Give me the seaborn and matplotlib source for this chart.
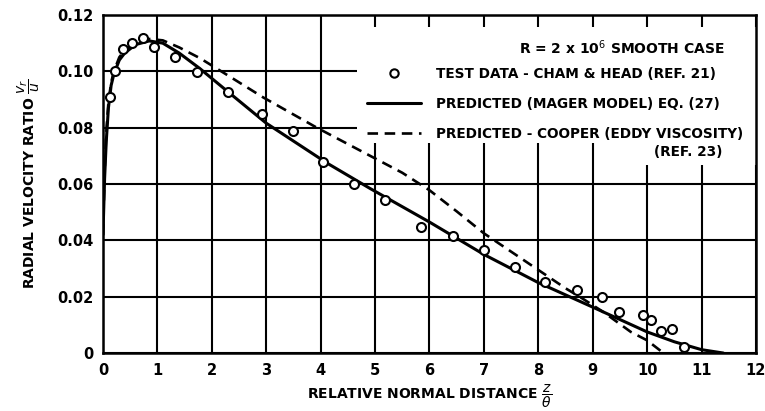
import matplotlib
matplotlib.use("Agg")
import matplotlib.pyplot as plt
from matplotlib.lines import Line2D
from matplotlib.patches import Rectangle
import seaborn as sns
import pandas as pd

# ---- data ----
test_x = [0.13, 0.23, 0.37, 0.53, 0.73, 0.94, 1.33, 1.73, 2.29, 2.93, 3.49, 4.04,
          4.61, 5.18, 5.84, 6.44, 7.0, 7.57, 8.13, 8.71, 9.17, 9.48, 9.93, 10.08,
          10.25, 10.45, 10.67]
test_y = [0.091, 0.100, 0.108, 0.110, 0.112, 0.1085, 0.105, 0.0997, 0.0926, 0.0849,
          0.0788, 0.0678, 0.0600, 0.0543, 0.0447, 0.0417, 0.0365, 0.0307, 0.0252,
          0.0224, 0.0200, 0.0146, 0.0135, 0.0117, 0.0077, 0.0087, 0.0022]

mager_x = [0, 0.03, 0.06, 0.1, 0.15, 0.2, 0.3, 0.4, 0.6, 0.85, 1.1, 1.4, 1.78, 2.3,
           3.0, 4.12, 4.91, 6.0, 7.0, 8.0, 9.0, 10.0, 10.5, 11.0, 11.4]
mager_y = [0.042, 0.062, 0.075, 0.087, 0.095, 0.099, 0.104, 0.1065, 0.1095, 0.1108,
           0.110, 0.1065, 0.101, 0.0927, 0.0816, 0.0674, 0.0584, 0.0465, 0.0350,
           0.0250, 0.0163, 0.0075, 0.0040, 0.0012, 0.0]

cooper_x = [0, 0.03, 0.06, 0.1, 0.15, 0.2, 0.3, 0.4, 0.6, 0.85, 1.1, 1.4, 1.78, 2.3,
            2.94, 3.93, 4.96, 5.5, 6.0, 6.5, 7.0, 7.5, 8.0, 8.5, 8.8, 9.2, 9.7,
            10.0, 10.3]
cooper_y = [0.042, 0.064, 0.078, 0.089, 0.096, 0.100, 0.105, 0.1075, 0.110, 0.1115,
            0.111, 0.1085, 0.1047, 0.0985, 0.0908, 0.0800, 0.0695, 0.0640, 0.0578,
            0.0503, 0.0425, 0.0360, 0.0295, 0.0230, 0.0195, 0.0145, 0.0075,
            0.0045, 0.0]

x_ticks = list(range(0, 13))
y_ticks = [0, 0.02, 0.04, 0.06, 0.08, 0.10, 0.12]
y_tick_labels = ["0", "0.02", "0.04", "0.06", "0.08", "0.10", "0.12"]

sns.set_style("white")
plt.rcParams["font.family"] = ["DejaVu Sans"]
plt.rcParams["mathtext.fontset"] = "dejavusans"
plt.rcParams["text.color"] = "black"
plt.rcParams["axes.labelcolor"] = "black"
plt.rcParams["xtick.color"] = "black"
plt.rcParams["ytick.color"] = "black"

fig = plt.figure(figsize=(7.65, 4.11), dpi=100)
ax = fig.add_axes([0.1346, 0.141, 0.8536, 0.8225])

df_test = pd.DataFrame({"x": test_x, "y": test_y})
df_mager = pd.DataFrame({"x": mager_x, "y": mager_y})
df_cooper = pd.DataFrame({"x": cooper_x, "y": cooper_y})

sns.lineplot(data=df_mager, x="x", y="y", sort=False, estimator=None, ax=ax,
             color="black", lw=2.2, zorder=3)
sns.lineplot(data=df_cooper, x="x", y="y", sort=False, estimator=None, ax=ax,
             color="black", lw=1.9, linestyle=(0, (4, 2.5)), zorder=3)
sns.scatterplot(data=df_test, x="x", y="y", ax=ax, marker="o", s=42,
                facecolor="white", edgecolor="black", linewidth=1.5, zorder=4)

ax.set_xlim(0, 12)
ax.set_ylim(0, 0.12)
ax.set_xticks(x_ticks)
ax.set_xticklabels([str(t) for t in x_ticks])
ax.set_yticks(y_ticks)
ax.set_yticklabels(y_tick_labels)
ax.tick_params(length=0, labelsize=10.5, pad=7, colors="black")
for lab in ax.get_xticklabels() + ax.get_yticklabels():
    lab.set_fontweight("bold")
ax.set_axisbelow(True)
ax.grid(True, color="black", lw=1.5)
for sp in ax.spines.values():
    sp.set_color("black")
    sp.set_linewidth(1.8)

# white legend area that hides the grid
ax.add_patch(Rectangle((0.389, 0.621), 0.62, 0.344, transform=ax.transAxes,
                       facecolor="white", edgecolor="none", zorder=1))
ax.add_patch(Rectangle((0.82, 0.555), 0.2, 0.08, transform=ax.transAxes,
                       facecolor="white", edgecolor="none", zorder=1))

ax.set_xlabel(r"RELATIVE NORMAL DISTANCE $\dfrac{z}{\theta}$", fontsize=10,
              fontweight="bold", color="black")
ax.set_ylabel(r"RADIAL VELOCITY RATIO $\dfrac{v_r}{u}$", fontsize=10,
              fontweight="bold", color="black")
ax.xaxis.set_label_coords(0.5, -0.088)
ax.yaxis.set_label_coords(-0.093, 0.5)

handles = [
    Line2D([], [], marker="o", ls="none", markersize=6, markerfacecolor="white",
           markeredgecolor="black", markeredgewidth=1.5),
    Line2D([], [], color="black", lw=2.2),
    Line2D([], [], color="black", lw=1.9, ls=(0, (4, 2.5))),
]
labels = ["TEST DATA - CHAM & HEAD (REF. 21)",
          "PREDICTED (MAGER MODEL) EQ. (27)",
          "PREDICTED - COOPER (EDDY VISCOSITY)"]
leg = ax.legend(handles, labels, loc="upper left", bbox_to_anchor=(0.404, 0.846),
                frameon=False, borderpad=0, borderaxespad=0, handlelength=4.0,
                handletextpad=1.1, labelspacing=1.16,
                prop={"size": 9.8, "weight": "bold"})
leg.set_zorder(5)
for t in leg.get_texts():
    t.set_color("black")

ax.text(0.952, 0.902, r"R = 2 x 10$^{6}$ SMOOTH CASE", transform=ax.transAxes,
        ha="right", va="center", fontsize=10, fontweight="bold", zorder=5)
ax.text(0.948, 0.595, "(REF. 23)", transform=ax.transAxes, ha="right",
        va="center", fontsize=9.8, fontweight="bold", zorder=5)

fig.savefig("out.png", dpi=100)
